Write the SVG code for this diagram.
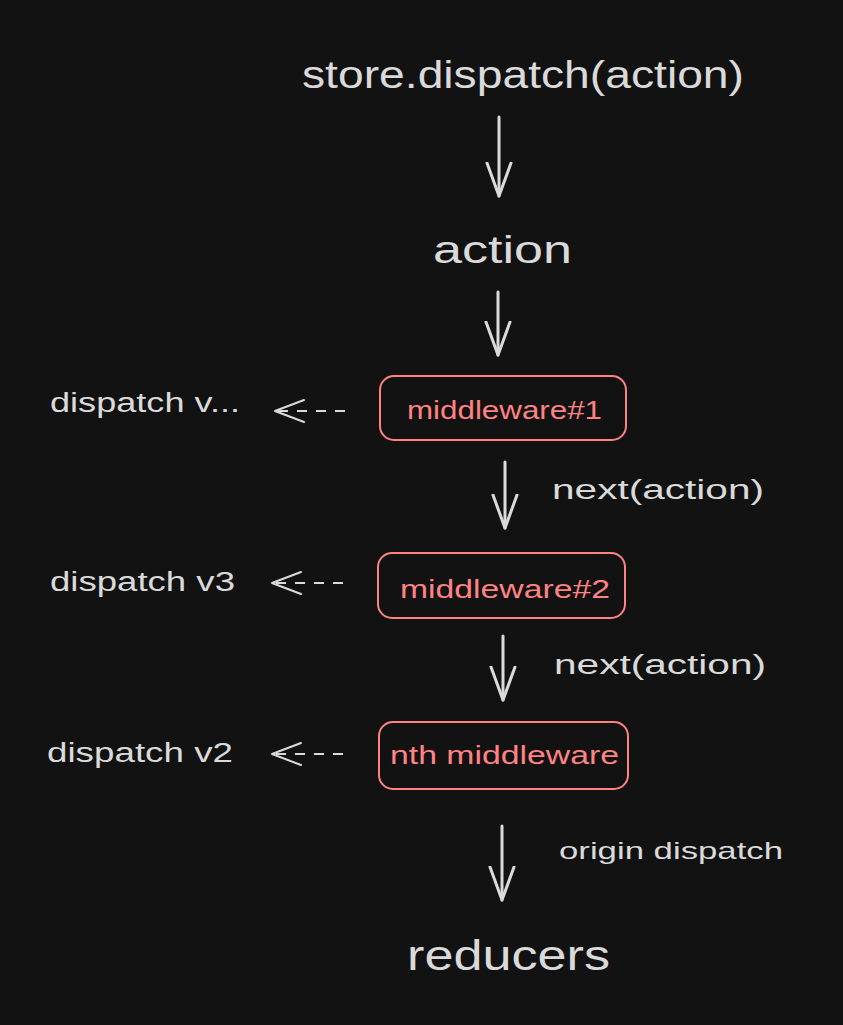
<svg xmlns="http://www.w3.org/2000/svg" width="843" height="1025" viewBox="0 0 843 1025">
  <style>
    .bg { fill: #121212; }
    .t { font-family: "Liberation Sans", "Open Sans", sans-serif; fill: #dadada; }
    .r { font-family: "Liberation Sans", "Open Sans", sans-serif; fill: #ff8383; }
    .box { fill: none; stroke: #ff8383; stroke-width: 2; }
    .solid { fill: none; stroke: #dadada; stroke-width: 3; stroke-linecap: round; marker-end: url(#ah); }
    .dash { fill: none; stroke: #dadada; stroke-width: 2; stroke-dasharray: 10 9; marker-end: url(#ahd); }
  </style>
  <defs>
    <marker id="ah" markerUnits="userSpaceOnUse" markerWidth="40" markerHeight="30" refX="34" refY="14" orient="auto" viewBox="0 0 40 30">
      <path d="M1,2 L34,14 L1,26" fill="none" stroke="#dadada" stroke-width="3" stroke-linecap="round" stroke-linejoin="round"/>
    </marker>
    <marker id="ahd" markerUnits="userSpaceOnUse" markerWidth="36" markerHeight="26" refX="31" refY="12" orient="auto" viewBox="0 0 36 26">
      <path d="M2,1 L31,12 L2,23" fill="none" stroke="#dadada" stroke-width="2" stroke-linecap="round" stroke-linejoin="round"/>
    </marker>
  </defs>
  <rect class="bg" x="0" y="0" width="843" height="1025"/>

  <g id="store-dispatch">
    <text class="t" x="302" y="88" font-size="38" textLength="442" lengthAdjust="spacingAndGlyphs">store.dispatch(action)</text>
  </g>
  <g id="action">
    <text class="t" x="433" y="263" font-size="38" textLength="139" lengthAdjust="spacingAndGlyphs">action</text>
  </g>
  <g id="middleware1">
    <rect class="box" x="380" y="376" width="246" height="64" rx="14"/>
    <text class="r" x="407" y="419" font-size="26" textLength="195" lengthAdjust="spacingAndGlyphs">middleware#1</text>
  </g>
  <g id="middleware2">
    <rect class="box" x="378" y="553" width="247" height="65" rx="14"/>
    <text class="r" x="400" y="598" font-size="26" textLength="210" lengthAdjust="spacingAndGlyphs">middleware#2</text>
  </g>
  <g id="nth-middleware">
    <rect class="box" x="379" y="722" width="249" height="67" rx="14"/>
    <text class="r" x="390" y="764" font-size="26" textLength="229" lengthAdjust="spacingAndGlyphs">nth middleware</text>
  </g>
  <g id="dispatch-v-more">
    <text class="t" x="50" y="412" font-size="27" textLength="190" lengthAdjust="spacingAndGlyphs">dispatch v...</text>
  </g>
  <g id="dispatch-v3">
    <text class="t" x="50" y="591" font-size="27" textLength="185" lengthAdjust="spacingAndGlyphs">dispatch v3</text>
  </g>
  <g id="dispatch-v2">
    <text class="t" x="47" y="762" font-size="27" textLength="186" lengthAdjust="spacingAndGlyphs">dispatch v2</text>
  </g>
  <g id="reducers">
    <text class="t" x="407" y="970" font-size="42" textLength="203" lengthAdjust="spacingAndGlyphs">reducers</text>
  </g>

  <g id="connectors">
    <path class="solid" d="M499,117 L499,196"/>
    <path class="solid" d="M498,292 L498,355"/>
    <path class="solid" d="M505,462 L505,528"/>
    <path class="solid" d="M503,636 L503,700"/>
    <path class="solid" d="M502,826 L502,900"/>
    <path class="dash" d="M345,411 L275,411"/>
    <path class="dash" d="M343,583 L272,583"/>
    <path class="dash" d="M343,754 L272,754"/>
    <text class="t" x="552" y="499" font-size="27" textLength="212" lengthAdjust="spacingAndGlyphs">next(action)</text>
    <text class="t" x="554" y="674" font-size="27" textLength="212" lengthAdjust="spacingAndGlyphs">next(action)</text>
    <text class="t" x="559" y="859" font-size="24" textLength="224" lengthAdjust="spacingAndGlyphs">origin dispatch</text>
  </g>
</svg>
